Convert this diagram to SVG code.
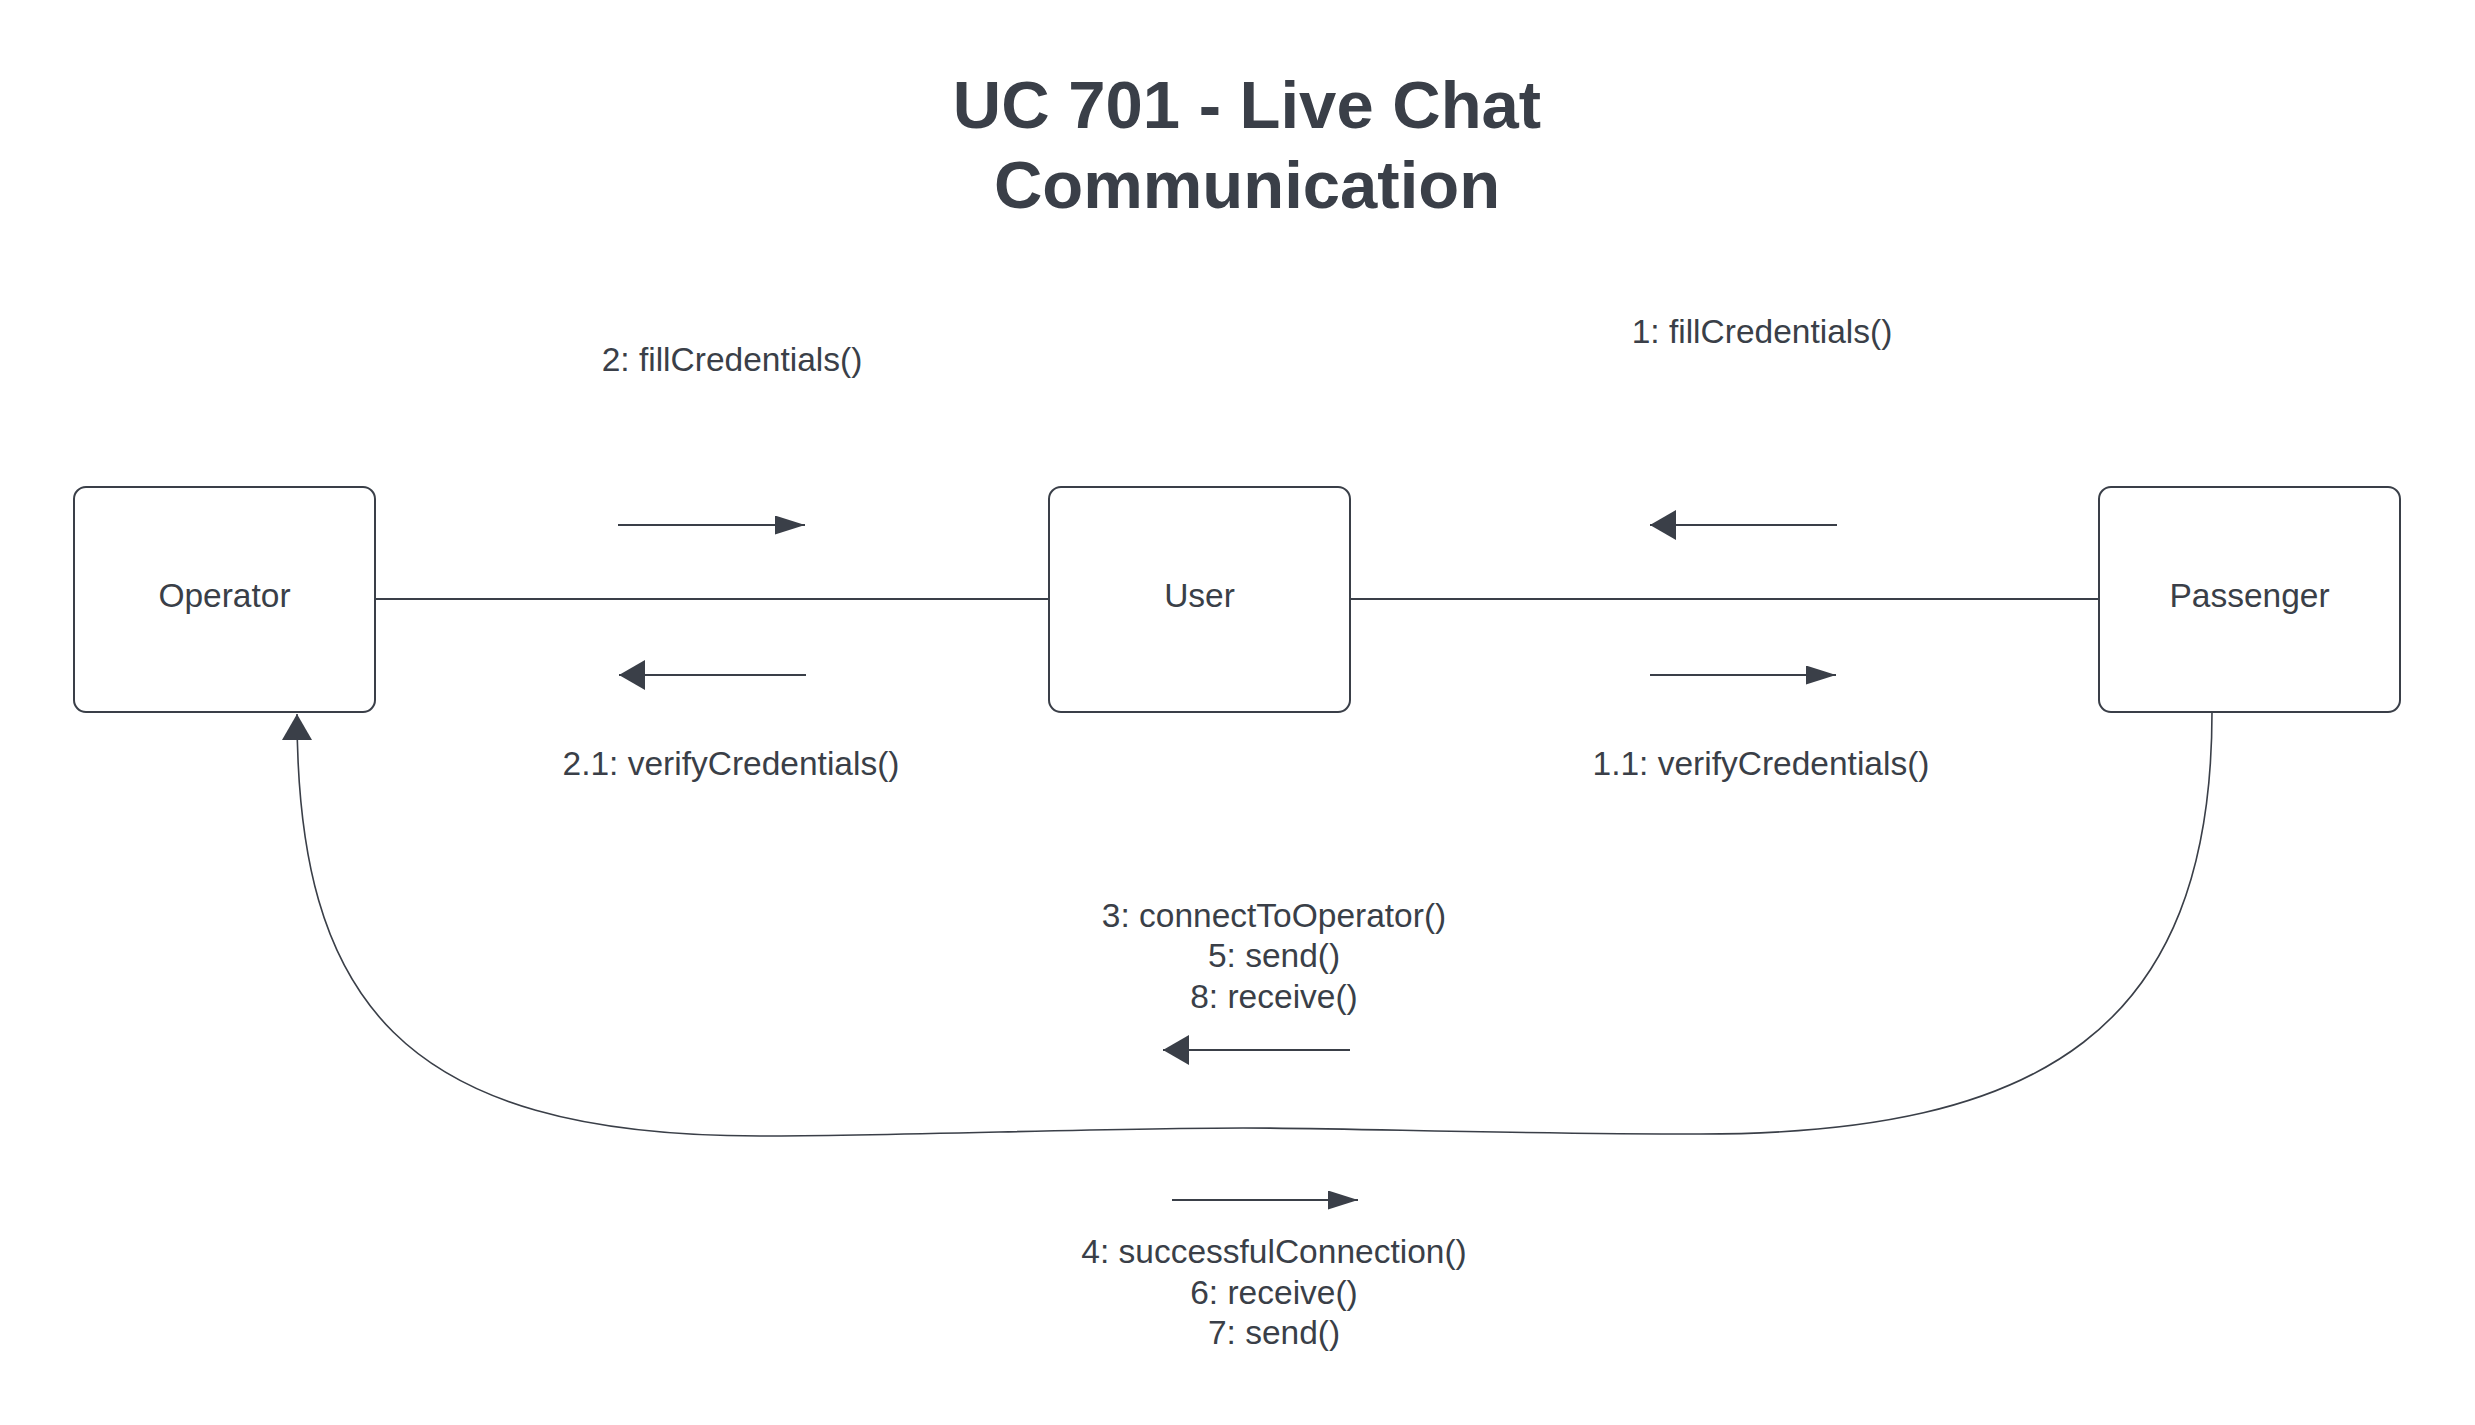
<svg xmlns="http://www.w3.org/2000/svg" width="2475" height="1425" viewBox="0 0 2475 1425">
<style>
.bg{fill:#ffffff}
.box{fill:#ffffff;stroke:#3a3f48;stroke-width:2}
.lbl{font-family:"Liberation Sans",Arial,sans-serif;font-size:33.5px;fill:#3a3f48;text-anchor:middle}
.title{font-family:"Liberation Sans",Arial,sans-serif;font-size:67px;font-weight:bold;fill:#3a3f48;text-anchor:middle}
.line{fill:none;stroke:#3a3f48;stroke-width:2}
.curve{fill:none;stroke:#3a3f48;stroke-width:1.6}
.msg{fill:none;stroke:#3a3f48;stroke-width:2}
</style>
<defs>
<marker id="headBig" viewBox="0 0 26 30" refX="26" refY="15" markerWidth="26" markerHeight="30" markerUnits="userSpaceOnUse" orient="auto">
<path d="M0,0 L26,15 L0,30 z" fill="#3a3f48"/>
</marker>
<marker id="headSmall" viewBox="0 0 30 19" refX="30" refY="9.5" markerWidth="30" markerHeight="19" markerUnits="userSpaceOnUse" orient="auto">
<path d="M0,0 L30,9.5 L0,19 z" fill="#3a3f48"/>
</marker>
</defs>
<rect class="bg" x="0" y="0" width="2475" height="1425"/>
<g id="title">
<text class="title" x="1247" y="128">UC 701 - Live Chat</text>
<text class="title" x="1247" y="208">Communication</text>
</g>
<g id="connectors">
<line class="line" x1="375" y1="599" x2="1049" y2="599"/>
<line class="line" x1="1350" y1="599" x2="2099" y2="599"/>
<path class="curve" d="M2212,712 C2212,1030 2040,1134 1700,1134 C1500,1134 1350,1128 1243,1128 C1100,1128 900,1136 760,1136 C400,1136 297,1000 297,714" marker-end="url(#headBig)"/>
</g>
<g id="messages">
<line class="msg" x1="618" y1="525" x2="805" y2="525" marker-end="url(#headSmall)"/>
<line class="msg" x1="806" y1="675" x2="619" y2="675" marker-end="url(#headBig)"/>
<line class="msg" x1="1837" y1="525" x2="1650" y2="525" marker-end="url(#headBig)"/>
<line class="msg" x1="1650" y1="675" x2="1836" y2="675" marker-end="url(#headSmall)"/>
<line class="msg" x1="1350" y1="1050" x2="1163" y2="1050" marker-end="url(#headBig)"/>
<line class="msg" x1="1172" y1="1200" x2="1358" y2="1200" marker-end="url(#headSmall)"/>
<text class="lbl" x="732" y="371">2: fillCredentials()</text>
<text class="lbl" x="731" y="775">2.1: verifyCredentials()</text>
<text class="lbl" x="1762" y="343">1: fillCredentials()</text>
<text class="lbl" x="1761" y="775">1.1: verifyCredentials()</text>
<text class="lbl" x="1274" y="927">3: connectToOperator()</text>
<text class="lbl" x="1274" y="967">5: send()</text>
<text class="lbl" x="1274" y="1008">8: receive()</text>
<text class="lbl" x="1274" y="1263">4: successfulConnection()</text>
<text class="lbl" x="1274" y="1304">6: receive()</text>
<text class="lbl" x="1274" y="1344">7: send()</text>
</g>
<g id="node-operator">
<rect class="box" x="74" y="487" width="301" height="225" rx="12" ry="12"/>
<text class="lbl" x="224.5" y="607">Operator</text>
</g>
<g id="node-user">
<rect class="box" x="1049" y="487" width="301" height="225" rx="12" ry="12"/>
<text class="lbl" x="1199.5" y="607">User</text>
</g>
<g id="node-passenger">
<rect class="box" x="2099" y="487" width="301" height="225" rx="12" ry="12"/>
<text class="lbl" x="2249.5" y="607">Passenger</text>
</g>
</svg>
